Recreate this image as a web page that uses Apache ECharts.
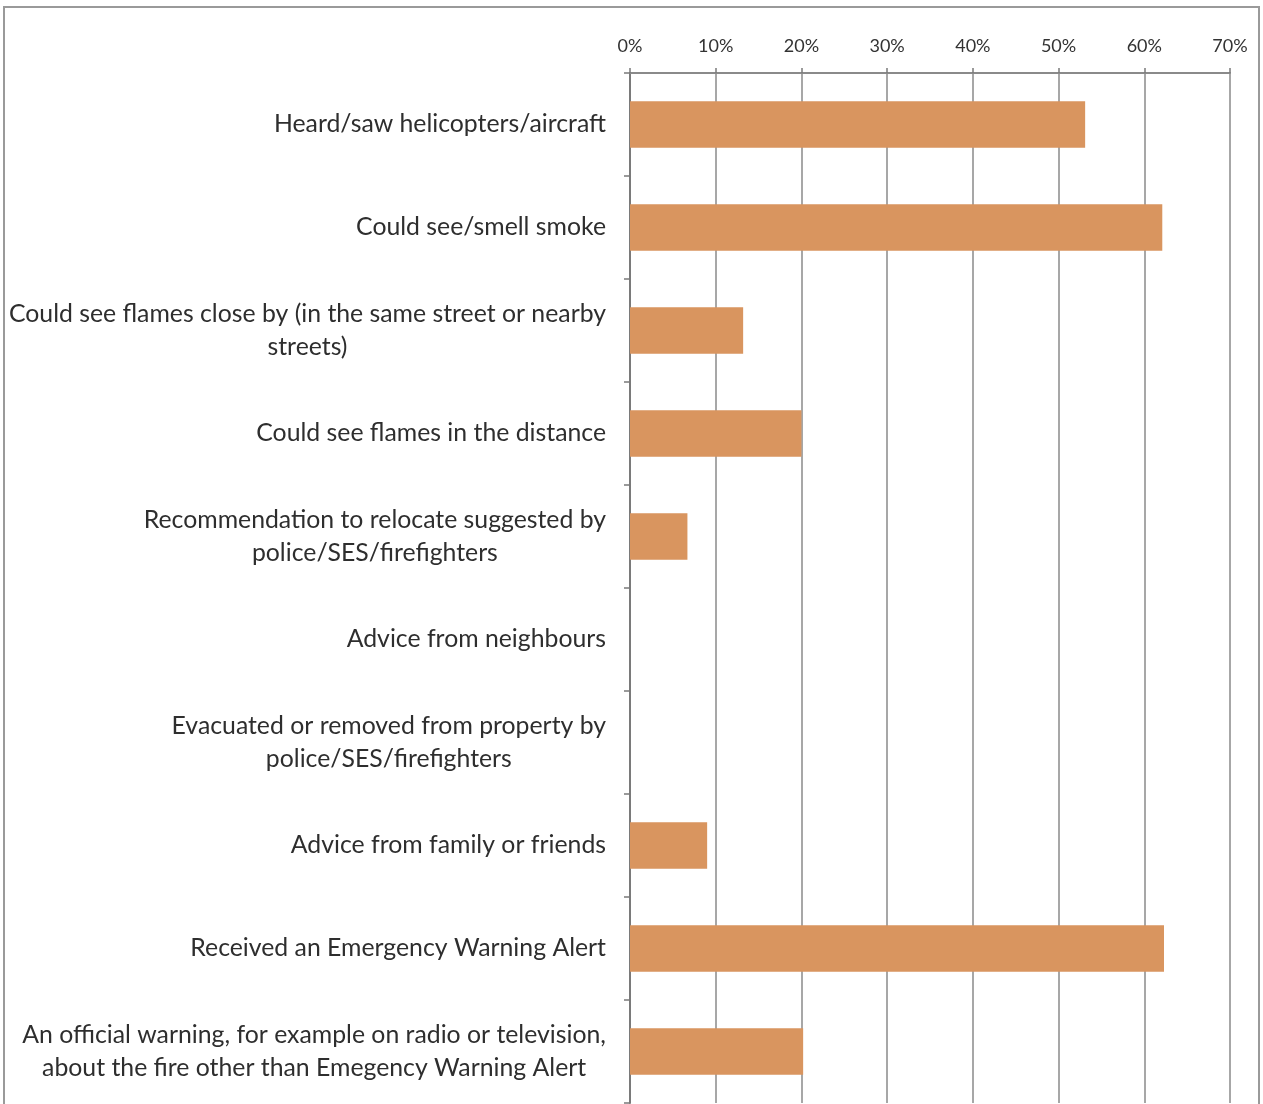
<!DOCTYPE html>
<html>
<head>
<meta charset="utf-8">
<script src="https://cdn.jsdelivr.net/npm/echarts@6/dist/echarts.min.js"></script>
<style>
html,body{margin:0;padding:0;background:#fff;}
#chart{width:1263px;height:1104px;}
</style>
</head>
<body>
<div id="chart"></div>
<script>
var categories = [
  'Heard/saw helicopters/aircraft',
  'Could see/smell smoke',
  'Could see flames close by (in the same street or nearby\nstreets)',
  'Could see flames in the distance',
  'Recommendation to relocate suggested by\npolice/SES/firefighters',
  'Advice from neighbours',
  'Evacuated or removed from property by\npolice/SES/firefighters',
  'Advice from family or friends',
  'Received an Emergency Warning Alert',
  'An official warning, for example on radio or television,\nabout the fire other than Emegency Warning Alert'
];
var values = [53.1, 62.1, 13.2, 20.0, 6.7, 0, 0, 9.0, 62.3, 20.2];
var tickMin = 0, tickMax = 70, tickStep = 10;

var chart = echarts.init(document.getElementById('chart'));
chart.setOption({
  animation: false,
  backgroundColor: '#fff',
  graphic: [{
    type: 'rect',
    shape: {x: 4, y: 7, width: 1255, height: 1110},
    style: {fill: 'none', stroke: '#9a9a9a', lineWidth: 2},
    silent: true
  }],
  grid: {left: 630, right: 33, top: 73, bottom: 1, containLabel: false},
  xAxis: {
    type: 'value',
    position: 'top',
    min: tickMin, max: tickMax, interval: tickStep,
    axisLine: {show: true, lineStyle: {color: '#8a8a8a', width: 2}},
    axisTick: {show: true, length: 5, lineStyle: {color: '#7a7a7a', width: 1.5}},
    splitLine: {show: true, lineStyle: {color: '#8a8a8a', width: 1.5}},
    axisLabel: {
      formatter: '{value}%', margin: 18,
      fontFamily: 'Lato', fontSize: 18, color: '#333'
    }
  },
  yAxis: {
    type: 'category',
    inverse: true,
    data: categories,
    axisLine: {show: true, lineStyle: {color: '#7a7a7a', width: 2}},
    axisTick: {show: true, length: 6, lineStyle: {color: '#7a7a7a', width: 1.5}},
    axisLabel: {
      margin: 24, align: 'right',
      fontFamily: 'Lato', fontSize: 24.8, color: '#2e2e2e',
      formatter: function (v) {
        return v.split('\n').map(function (s) { return '{c|' + s + '}'; }).join('\n');
      },
      rich: {c: {align: 'center', fontFamily: 'Lato', fontSize: 24.8, color: '#2e2e2e', lineHeight: 33}}
    }
  },
  series: [{
    type: 'bar',
    data: values,
    barCategoryGap: '55%',
    itemStyle: {color: '#D9955F'}
  }]
});
</script>
</body>
</html>
